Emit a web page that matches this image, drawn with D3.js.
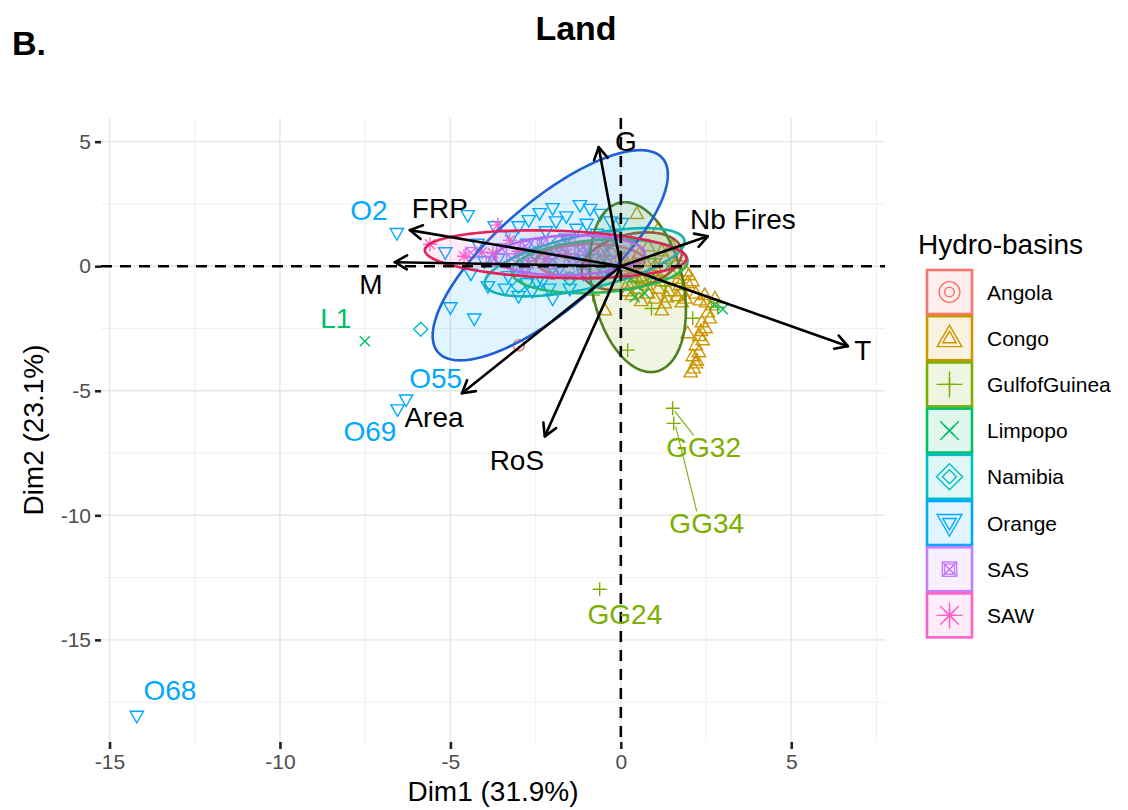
<!DOCTYPE html>
<html>
<head>
<meta charset="utf-8">
<script src="https://cdn.jsdelivr.net/npm/d3@7"></script>
<style>
  html, body { margin: 0; padding: 0; background: #fff; }
  svg { display: block; font-family: "Liberation Sans", Arial, Helvetica, sans-serif; }
</style>
</head>
<body>
<svg id="chart" width="1128" height="810"></svg>
<script>
// --- DATA ---
const basins = ["Angola", "Congo", "GulfofGuinea", "Limpopo", "Namibia", "Orange", "SAS", "SAW"];

// individuals (Dim1, Dim2) per hydro-basin
const angolaPts = [[-2.99,-3.17],[-1.5,0.2],[-0.8,-0.2],[0.5,0.3],[-2.0,-0.3],[1.0,-0.2],[-0.3,0.5]];
const congoPts = [[2.46,-1.16],[2.67,-1.57],[2.61,-2.09],[2.49,-2.49],[2.40,-2.97],[2.29,-3.45],[2.23,-3.78],
  [2.14,-4.10],[2.05,-4.26],[1.96,-2.69],[2.76,-1.29],[2.32,-1.37],[2.55,-1.85],[2.38,-2.25],[2.20,-3.17],
  [2.11,-3.61],[-0.47,-1.77],[1.20,-1.77],[1.79,-1.45],[1.96,-0.68],[0.32,-1.16],[1.29,-1.49],[2.0,-0.36],
  [1.73,-0.76],[0.3,-0.3],[0.6,-0.5],[0.9,-0.2],[1.2,-0.6],[1.5,-0.3],[0.5,-0.9],[0.8,-1.1],[1.1,-0.9],
  [1.4,-1.0],[1.7,-0.5],[0.2,-0.7],[0.4,0.1],[0.7,0.2],[1.0,0.0],[1.3,0.3],[1.6,0.1],[1.9,-0.2],[0.1,0.3],
  [1.0,-1.3],[0.6,-1.4],[1.8,-1.0],[2.1,-0.6],[0.47,2.1],[1.1,1.5],[0.8,0.8],[1.5,0.8],[2.35,-2.6],
  [2.2,-3.9],[2.5,-1.45],[2.3,-2.8],[0.2,-1.0],[0.45,-0.45],[0.75,-0.75],[1.05,-0.45],[1.35,-1.25],
  [1.65,-1.2],[1.9,-1.3],[2.2,-1.1],[0.15,0.0],[0.55,0.5],[1.2,0.6],[1.75,0.4]];
const guineaPts = [[1.52,-5.70],[1.55,-6.31],[-0.62,-12.97],[0.2,-3.37],[0.9,-1.7],[2.11,-2.09],[2.84,-1.65],
  [-0.82,-1.16],[0.5,-0.6],[1.0,0.3],[-0.5,0.4],[0.3,1.0],[1.3,-0.8],[0.0,-0.4]];
const limpopoPts = [[-7.51,-3.01],[0.41,-1.24],[0.70,-1.08],[2.99,-1.73],[2.75,-1.55],[-0.5,0.2],[0.3,-0.5],
  [-1.5,-0.4],[0.9,-0.4],[1.4,0.0]];
const namibiaPts = [[-5.87,-2.53],[-2.0,0.0],[-1.5,-0.5],[-2.5,0.5],[-1.0,0.2],[-3.0,-0.8],[-0.5,-0.3],
  [-1.8,1.0],[-0.2,0.6]];
const orangePts = [[-6.57,1.33],[-14.2,-18.05],[-6.55,-5.75],[-6.3,-5.35],[-5.15,0.56],[-4.49,2.05],[-5.0,-1.65],
  [-4.3,-2.1],[-2.75,0.9],[-2.0,2.33],[-1.2,2.45],[-2.38,2.13],[-0.6,2.1],[-1.6,2.0],[-2.7,1.85],[-0.3,1.8],
  [-1.0,1.7],[0.03,1.73],[-3.2,1.2],[-2.9,0.4],[-2.5,0.9],[-2.2,1.4],[-1.9,0.6],[-1.6,1.1],[-1.3,1.5],
  [-1.0,0.8],[-0.7,1.3],[-0.4,0.9],[-3.6,0.3],[-3.3,-0.4],[-2.8,-0.2],[-2.3,-0.6],[-1.8,-0.1],[-1.4,0.2],
  [-1.1,-0.3],[-0.8,0.3],[-0.5,-0.2],[-3.9,-0.8],[-3.0,-1.2],[-2.6,-1.0],[-2.0,-1.3],[-1.5,-0.9],[-4.2,0.9],
  [-2.75,-0.68],[-3.7,1.6],[-4.0,0.2],[-3.4,-0.9],[-1.9,1.8],[-0.9,2.3],[-0.2,1.2],[-3.0,1.6],[-2.1,-0.9],
  [-4.4,-0.3],[-2.46,-0.64]];
const sasPts = [[-4.4,0.55],[-3.5,0.7],[-3.2,0.3],[-2.8,0.8],[-2.6,0.4],[-2.3,0.9],[-2.0,0.5],[-1.7,0.7],
  [-1.4,0.3],[-1.1,0.8],[-0.8,0.4],[-0.5,0.6],[-3.8,0.2],[-2.9,-0.1],[-2.1,0.1],[-1.5,1.0],[-0.3,0.2],[-1.2,0.64]];
const sawPts = [[-3.61,1.65],[-5.6,0.88],[-4.08,0.56],[-3.75,0.52],[-3.26,1.04],[-2.2,0.3],[-1.6,0.5],
  [-2.7,0.1],[-3.0,0.6],[-1.0,0.1],[-4.6,0.4]];
const basinPoints = [angolaPts, congoPts, guineaPts, limpopoPts, namibiaPts, orangePts, sasPts, sawPts];

// concentration ellipses: centre, spread along each dim, correlation
const ellCx = [-0.9, 0.32, 0.50, -0.62, -1.06, -2.07, -1.5, -1.91];
const ellCy = [0.2, 0.2, -0.84, 0.0, 0.16, 0.44, 0.44, 0.48];
const ellSx = [1.6, 1.47, 1.41, 2.58, 2.93, 3.45, 2.2, 3.84];
const ellSy = [0.7, 1.16, 3.41, 1.08, 1.37, 4.22, 0.8, 0.96];
const ellR  = [0.0, 0.3, -0.27, 0.2, 0.6, 0.766, 0.1, -0.17];

// variable arrows
const varNames = ["G", "FRP", "M", "Nb Fires", "T", "Area", "RoS"];
const varDim1 = [-0.65, -6.19, -6.63, 2.55, 6.66, -4.66, -2.23];
const varDim2 = [4.78, 1.45, 0.16, 1.20, -3.21, -5.10, -6.83];
const varLabelDim1 = [0.15, -5.31, -7.33, 3.58, 7.10, -5.48, -3.05];
const varLabelDim2 = [5.02, 2.33, -0.72, 1.89, -3.37, -6.06, -7.79];

// labelled individuals
const indNames = ["O2", "O68", "O69", "O55", "L1", "GG32", "GG34", "GG24"];
const indBasin = ["Orange", "Orange", "Orange", "Orange", "Limpopo", "GulfofGuinea", "GulfofGuinea", "GulfofGuinea"];
const indDim1 = [-6.57, -14.2, -6.55, -6.3, -7.51, 1.52, 1.55, -0.62];
const indDim2 = [1.33, -18.05, -5.75, -5.35, -3.01, -5.70, -6.31, -12.97];
const indLabelDim1 = [-7.39, -13.23, -7.36, -5.43, -8.36, 2.43, 2.52, 0.12];
const indLabelDim2 = [2.25, -17.03, -6.63, -4.50, -2.09, -7.27, -10.32, -13.98];
const indSegment = [false, false, false, false, false, true, true, false];

const xTicks = [-15, -10, -5, 0, 5];
const yTicks = [5, 0, -5, -10, -15];

// --- STYLE ---
const basinColors = ["#F8766D", "#CD9600", "#7CAE00", "#00BE67", "#00BFC4", "#00A9FF", "#C77CFF", "#FF61CC"];
const ellipseColors = ["#E8675C", "#B5432C", "#4E7F1C", "#2DB957", "#14B3A8", "#1E5FD6", "#A86BEF", "#E3215B"];
const basinShapes = ["circle", "triangle", "plus", "times", "diamond", "triangleDown", "squareX", "asterisk"];

const svg = d3.select("#chart");

const x = d3.scaleLinear().domain([-15.25, 7.75]).range([101, 885]);
const y = d3.scaleLinear().domain([-19.1, 5.95]).range([742, 118]);

function shapePath(shape, s) {
  const d = s * 0.72;
  switch (shape) {
    case "circle": {
      const r = s * 0.8;
      return `M${r},0A${r},${r} 0 1,1 ${-r},0A${r},${r} 0 1,1 ${r},0Z`;
    }
    case "triangle": return `M0,${-s}L${s * 0.95},${s * 0.65}L${-s * 0.95},${s * 0.65}Z`;
    case "triangleDown": return `M0,${s}L${s * 0.95},${-s * 0.65}L${-s * 0.95},${-s * 0.65}Z`;
    case "plus": return `M${-s},0H${s}M0,${-s}V${s}`;
    case "times": return `M${-d},${-d}L${d},${d}M${-d},${d}L${d},${-d}`;
    case "diamond": return `M0,${-s}L${s},0L0,${s}L${-s},0Z`;
    case "squareX": return `M${-d},${-d}H${d}V${d}H${-d}ZM${-d},${-d}L${d},${d}M${-d},${d}L${d},${-d}`;
    case "asterisk": return `M${-s},0H${s}M0,${-s}V${s}M${-d},${-d}L${d},${d}M${-d},${d}L${d},${-d}`;
  }
}

// --- GRID ---
const grid = svg.append("g");
const xMinor = [-12.5, -7.5, -2.5, 2.5, 7.5];
const yMinor = [2.5, -2.5, -7.5, -12.5, -17.5];
grid.selectAll(".vmin").data(xMinor).join("line")
  .attr("x1", d => x(d)).attr("x2", d => x(d)).attr("y1", y.range()[1]).attr("y2", y.range()[0])
  .attr("stroke", "#F0F0F0").attr("stroke-width", 1);
grid.selectAll(".hmin").data(yMinor).join("line")
  .attr("y1", d => y(d)).attr("y2", d => y(d)).attr("x1", x.range()[0]).attr("x2", x.range()[1])
  .attr("stroke", "#F0F0F0").attr("stroke-width", 1);
grid.selectAll(".vmaj").data(xTicks).join("line")
  .attr("x1", d => x(d)).attr("x2", d => x(d)).attr("y1", y.range()[1]).attr("y2", y.range()[0])
  .attr("stroke", "#E6E6E6").attr("stroke-width", 1.4);
grid.selectAll(".hmaj").data(yTicks).join("line")
  .attr("y1", d => y(d)).attr("y2", d => y(d)).attr("x1", x.range()[0]).attr("x2", x.range()[1])
  .attr("stroke", "#E6E6E6").attr("stroke-width", 1.4);

// --- POINTS ---
const ptsG = svg.append("g").attr("fill", "none").attr("stroke-width", 1.4);
basins.forEach((b, i) => {
  ptsG.append("g").selectAll("path").data(basinPoints[i]).join("path")
    .attr("transform", d => `translate(${x(d[0])},${y(d[1])})`)
    .attr("d", shapePath(basinShapes[i], 7))
    .attr("stroke", basinColors[i]);
});

// --- ELLIPSES ---
const tSteps = d3.range(0, 2 * Math.PI + 0.001, Math.PI / 90);
const ellLine = d3.line().x(d => x(d[0])).y(d => y(d[1])).curve(d3.curveLinearClosed);
const ellG = svg.append("g");
basins.forEach((b, i) => {
  const pts = tSteps.map(t => [
    ellCx[i] + ellSx[i] * Math.cos(t),
    ellCy[i] + ellSy[i] * (ellR[i] * Math.cos(t) + Math.sqrt(1 - ellR[i] * ellR[i]) * Math.sin(t))
  ]);
  ellG.append("path")
    .attr("d", ellLine(pts))
    .attr("fill", basinColors[i]).attr("fill-opacity", 0.12)
    .attr("stroke", ellipseColors[i]).attr("stroke-width", 2.6);
});

// --- ZERO LINES ---
svg.append("line")
  .attr("x1", x.range()[0]).attr("x2", x.range()[1]).attr("y1", y(0)).attr("y2", y(0))
  .attr("stroke", "#000").attr("stroke-width", 2.6).attr("stroke-dasharray", "11,8");
svg.append("line")
  .attr("x1", x(0)).attr("x2", x(0)).attr("y1", y.range()[1]).attr("y2", y.range()[0])
  .attr("stroke", "#000").attr("stroke-width", 2.6).attr("stroke-dasharray", "11,8");

// --- LABEL SEGMENTS & LABELS FOR INDIVIDUALS ---
const indG = svg.append("g");
indNames.forEach((n, i) => {
  const col = basinColors[basins.indexOf(indBasin[i])];
  if (indSegment[i]) {
    indG.append("line")
      .attr("x1", x(indDim1[i]) + 2).attr("y1", y(indDim2[i]) + 3)
      .attr("x2", x(indLabelDim1[i]) - 10).attr("y2", y(indLabelDim2[i]) - 12)
      .attr("stroke", col).attr("stroke-width", 1.1);
  }
  indG.append("text")
    .attr("x", x(indLabelDim1[i])).attr("y", y(indLabelDim2[i]))
    .attr("text-anchor", "middle").attr("dominant-baseline", "central")
    .attr("font-size", 28).attr("fill", col)
    .text(n);
});

// --- VARIABLE ARROWS ---
const arrG = svg.append("g").attr("stroke", "#000").attr("stroke-width", 2.6).attr("fill", "none")
  .attr("stroke-linecap", "round").attr("stroke-linejoin", "round");
varNames.forEach((v, i) => {
  const x0 = x(0), y0 = y(0), x1 = x(varDim1[i]), y1 = y(varDim2[i]);
  const ang = Math.atan2(y1 - y0, x1 - x0);
  const hl = 14, ha = Math.PI / 6;
  arrG.append("line").attr("x1", x0).attr("y1", y0).attr("x2", x1).attr("y2", y1);
  arrG.append("path").attr("d",
    `M${x1 - hl * Math.cos(ang - ha)},${y1 - hl * Math.sin(ang - ha)}L${x1},${y1}` +
    `L${x1 - hl * Math.cos(ang + ha)},${y1 - hl * Math.sin(ang + ha)}`);
  svg.append("text")
    .attr("x", x(varLabelDim1[i])).attr("y", y(varLabelDim2[i]))
    .attr("text-anchor", "middle").attr("dominant-baseline", "central")
    .attr("font-size", 28).attr("fill", "#000")
    .text(v);
});

// --- AXES ---
const xAxis = svg.append("g")
  .attr("transform", `translate(0,${y.range()[0]})`)
  .call(d3.axisBottom(x).tickValues(xTicks).tickSize(7).tickPadding(5).tickFormat(d => String(d)));
const yAxis = svg.append("g")
  .attr("transform", `translate(${x.range()[0]},0)`)
  .call(d3.axisLeft(y).tickValues(yTicks).tickSize(6).tickPadding(4).tickFormat(d => String(d)));
[xAxis, yAxis].forEach(g => {
  g.select(".domain").remove();
  g.selectAll(".tick line").attr("stroke", "#222").attr("stroke-width", 2.6);
  g.selectAll(".tick text").attr("fill", "#4D4D4D").attr("font-size", 21)
    .attr("font-family", "Liberation Sans, Arial, sans-serif");
});

svg.append("text")
  .attr("x", (x.range()[0] + x.range()[1]) / 2).attr("y", 801)
  .attr("text-anchor", "middle").attr("font-size", 28).text("Dim1 (31.9%)");
svg.append("text")
  .attr("transform", `translate(43,${(y.range()[0] + y.range()[1]) / 2}) rotate(-90)`)
  .attr("text-anchor", "middle").attr("font-size", 28).text("Dim2 (23.1%)");

// --- TITLES ---
svg.append("text").attr("x", 576).attr("y", 40).attr("text-anchor", "middle")
  .attr("font-size", 34).attr("font-weight", "bold").text("Land");
svg.append("text").attr("x", 12).attr("y", 55)
  .attr("font-size", 34).attr("font-weight", "bold").text("B.");

// --- LEGEND ---
const legend = svg.append("g").attr("transform", "translate(918,0)");
legend.append("text").attr("x", 0).attr("y", 254).attr("font-size", 28).text("Hydro-basins");
basins.forEach((b, i) => {
  const ky = 270 + i * 46.2;
  const k = legend.append("g").attr("transform", `translate(9,${ky})`);
  k.append("rect").attr("x", 0).attr("y", 0).attr("width", 45).attr("height", 44)
    .attr("fill", basinColors[i]).attr("fill-opacity", 0.12)
    .attr("stroke", basinColors[i]).attr("stroke-width", 2.6);
  const big = basinShapes[i] === "squareX" ? 10 : 13;
  const small = basinShapes[i] === "circle" ? 6 : 7;
  k.append("path").attr("transform", "translate(22.5,22)").attr("d", shapePath(basinShapes[i], big))
    .attr("fill", "none").attr("stroke", basinColors[i]).attr("stroke-width", 1.4);
  k.append("path").attr("transform", "translate(22.5,22)").attr("d", shapePath(basinShapes[i], small))
    .attr("fill", "none").attr("stroke", basinColors[i]).attr("stroke-width", 1.4);
  legend.append("text").attr("x", 69).attr("y", ky + 22)
    .attr("dominant-baseline", "central").attr("font-size", 21).text(b);
});
</script>
</body>
</html>
